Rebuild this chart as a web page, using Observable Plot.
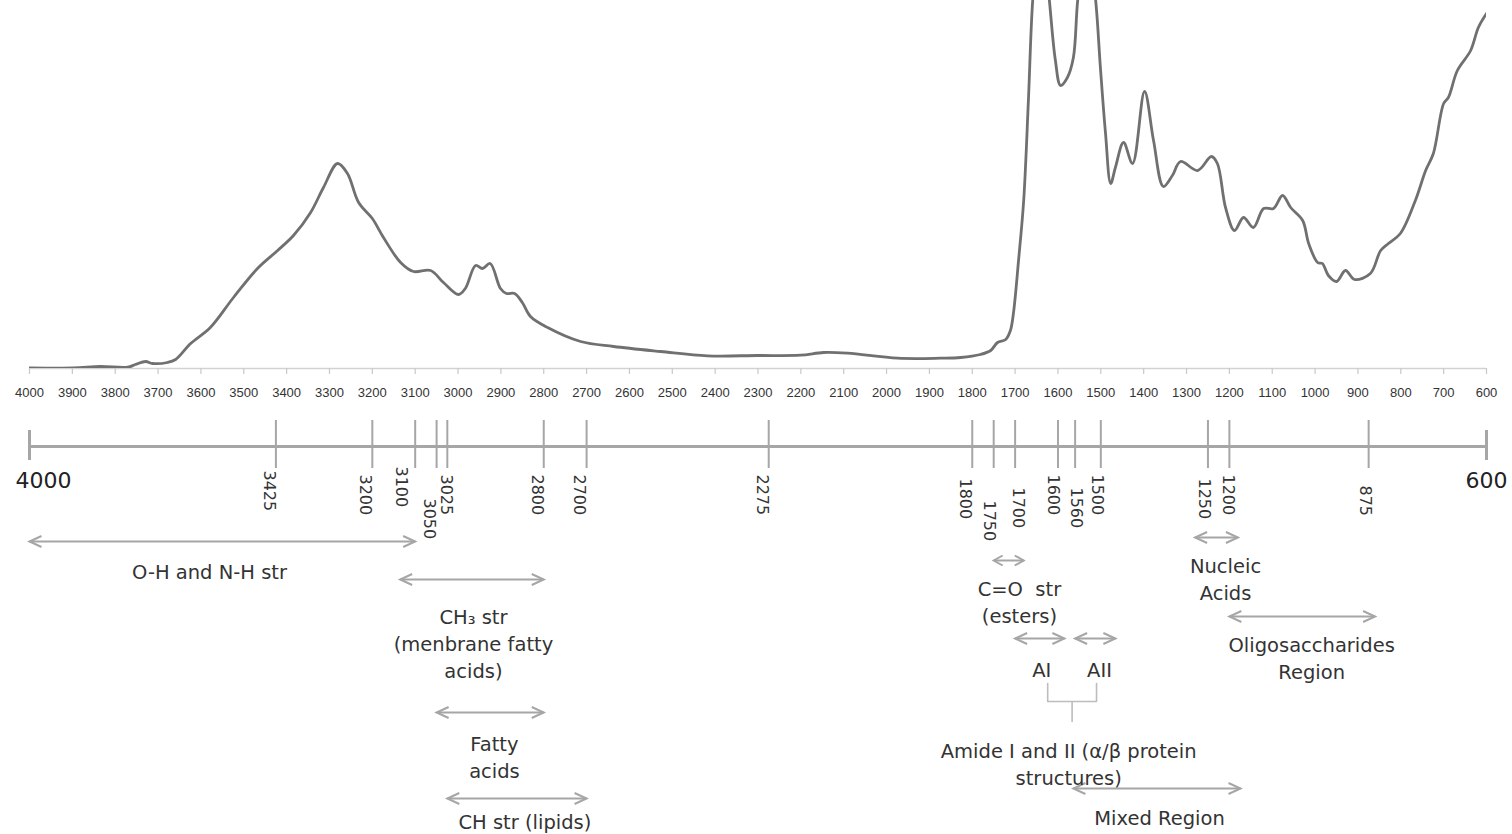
<!DOCTYPE html>
<html>
<head>
<meta charset="utf-8">
<script src="https://cdn.jsdelivr.net/npm/d3@7"></script>
<script src="https://cdn.jsdelivr.net/npm/@observablehq/plot@0.6"></script>
<style>
  html, body { margin: 0; padding: 0; background: #fff; }
  #chart { width: 1512px; height: 834px; overflow: hidden; position: relative; }
  #chart svg { display: block; }
</style>
</head>
<body>
<div id="chart"></div>
<script>
// ---------- DATA ----------
// FTIR spectrum: wavenumber (cm-1) and absorbance (arbitrary units)
const wavenumber = [4000, 3897, 3834, 3771, 3753, 3729, 3713, 3678, 3659, 3624, 3578, 3524, 3468, 3421, 3384, 3344, 3314, 3281, 3258, 3232,
  3200, 3174, 3134, 3104, 3064, 3034, 2999, 2983, 2959, 2943, 2925, 2901, 2887, 2868, 2850, 2831, 2791, 2714, 2637, 2527,
  2418, 2301, 2201, 2147, 2091, 1974, 1874, 1827, 1781, 1757, 1741, 1722, 1711, 1704, 1692, 1680, 1669, 1659, 1640, 1620,
  1606, 1594, 1578, 1564, 1554, 1533, 1512, 1501, 1489, 1477, 1466, 1447, 1426, 1398, 1377, 1354, 1333, 1314, 1274, 1242,
  1228, 1209, 1188, 1167, 1144, 1120, 1097, 1076, 1057, 1029, 1015, 994, 983, 969, 950, 929, 908, 871, 847, 829,
  801, 766, 742, 724, 700, 689, 668, 637, 619, 600];
const absorbance = [0.5, 0.7, 2, 1.3, 4, 7, 5, 6, 9, 25, 41, 71, 100, 118, 133, 156, 181, 205, 195, 166,
  150, 131, 106, 97, 98, 86, 74, 80, 103, 100, 105, 80, 75, 75, 66, 52, 41, 27, 22, 17,
  12.7, 13, 13.3, 16, 15.3, 10.3, 10.3, 11, 14, 18, 26, 29, 38, 55, 108, 168, 268, 368, 460, 368,
  308, 283, 291, 311, 368, 440, 368, 301, 235, 185, 201, 226, 205, 277, 228, 182, 193, 207, 198, 212,
  205, 161, 138, 151, 141, 160, 160, 173, 161, 148, 125, 106, 105, 93, 87, 98, 89, 95, 118, 125,
  135, 168, 198, 215, 265, 271, 298, 318, 341, 355];

// axis tick labels of the spectrum
const axisTicks = d3.range(4000, 599, -100);

// marked wavenumbers on the band-assignment scale
const markers = [3425, 3200, 3100, 3050, 3025, 2800, 2700, 2275, 1800, 1750, 1700, 1600, 1560, 1500, 1250, 1200, 875];
const scaleEnds = [4000, 600];

// band assignments (range in cm-1)
const bandIds    = ["oh", "ch3", "fatty", "ch", "co", "ai", "aii", "nucleic", "oligo", "mixed"];
const bandLabels = ["O-H and N-H str", "CH\u2083 str\n(menbrane fatty\nacids)", "Fatty\nacids", "CH str (lipids)",
  "C=O\u00a0 str\n(esters)", "AI", "AII", "Nucleic\nAcids", "Oligosaccharides\nRegion", "Mixed Region"];
const bandFrom   = [4000, 3135, 3050, 3025, 1750, 1700, 1560, 1280, 1200, 1564];
const bandTo     = [3100, 2800, 2800, 2700, 1680, 1585, 1466, 1180, 860, 1174];
const amideLabel = "Amide I and II (\u03b1/\u03b2 protein\nstructures)";

// ---------- LAYOUT (page rows in px, label anchors in cm-1) ----------
const layout = {
  oh:      {ay: 541, lx: 3580, ly: 570},
  ch3:     {ay: 579, lx: 2964, ly: 642},
  fatty:   {ay: 712, lx: 2915, ly: 755},
  ch:      {ay: 798, lx: 2844, ly: 820},
  co:      {ay: 560, lx: 1690, ly: 600},
  ai:      {ay: 638, lx: 1638, ly: 668},
  aii:     {ay: 638, lx: 1503, ly: 668},
  nucleic: {ay: 537, lx: 1209, ly: 577},
  oligo:   {ay: 616, lx: 1008, ly: 656},
  mixed:   {ay: 788, lx: 1363, ly: 816}
};
const amidePos = {lx: 1575, ly: 762};
const bracket = {left: 1624, right: 1510, stem: 1567, top: 683, mid: 701, bottom: 722};
const labelDx = {3100: -14, 3050: -7, 3025: -1, 1750: -5, 1700: 3, 1600: -5, 1560: 1, 1500: -4, 1250: -4, 1200: -1, 875: -4};
const labelTop = {3425: 470, 3100: 466, 3050: 498, 1800: 478, 1750: 500, 1700: 487, 1560: 487, 1250: 478, 875: 485};

// ---------- BUILD ----------
const spectrum = wavenumber.map((wn, i) => ({wn, a: absorbance[i]}));
const bands = bandIds.map((id, i) => ({id, label: bandLabels[i], from: bandFrom[i], to: bandTo[i]}));

const W = 1512;
const gray = "#a6a6a6";
const textColor = "#333";

const topChart = Plot.plot({
  width: W, height: 405,
  marginLeft: 29, marginRight: 26, marginTop: 0, marginBottom: 37,
  x: {domain: [4000, 600]},
  y: {domain: [0, 368], axis: null},
  style: {fontFamily: "'Liberation Sans', Arial, sans-serif", fontSize: "13px", background: "transparent"},
  marks: [
    Plot.ruleY([0], {stroke: "#d2d2d2", strokeWidth: 1.5}),
    Plot.axisX({ticks: axisTicks, tickSize: 6, tickPadding: 13, tickFormat: d => String(d),
      stroke: "#c8c8c8", strokeWidth: 1.2, fill: "#333", fontSize: 13, label: null}),
    Plot.line(spectrum, {x: "wn", y: "a", stroke: "#707070", strokeWidth: 2.8, curve: "catmull-rom", clip: true})
  ]
});

function chevron(dir, len, half) {
  return {draw(ctx) { ctx.moveTo(dir * len, -half); ctx.lineTo(0, 0); ctx.lineTo(dir * len, half); }};
}
const bigBands = bands.filter(d => d.id !== "co");
const smallBands = bands.filter(d => d.id === "co");
const ay = d => layout[d.id].ay;

const bottomChart = Plot.plot({
  width: W, height: 429,
  marginLeft: 29, marginRight: 26, marginTop: 0, marginBottom: 0,
  x: {domain: [4000, 600], axis: null},
  y: {domain: [834, 405], axis: null},
  style: {fontFamily: "'DejaVu Sans', sans-serif", background: "transparent"},
  marks: [
    // band-assignment scale
    Plot.ruleY([446], {x1: 4000, x2: 600, stroke: gray, strokeWidth: 3}),
    Plot.ruleX(scaleEnds, {y1: 430, y2: 460, stroke: gray, strokeWidth: 3}),
    Plot.ruleX(markers, {y1: 420, y2: 468, stroke: gray, strokeWidth: 2}),
    Plot.text([4000], {x: d => d, y: 480, text: d => String(d), fontSize: 22, textAnchor: "start", dx: -14, fill: "#222"}),
    Plot.text([600], {x: d => d, y: 480, text: d => String(d), fontSize: 22, textAnchor: "middle", fill: "#222"}),
    ...markers.map(m => Plot.text([m], {x: d => d, y: labelTop[m] ?? 474, text: d => String(d), rotate: 90,
      textAnchor: "start", lineAnchor: "middle", dx: labelDx[m] ?? -7, fontSize: 16, fill: textColor})),
    // band arrows
    Plot.link(bands, {x1: "from", x2: "to", y1: ay, y2: ay, stroke: gray, strokeWidth: 2}),
    Plot.dot(bigBands, {x: "from", y: ay, symbol: chevron(1, 12, 5.5), fill: "none", stroke: gray, strokeWidth: 2}),
    Plot.dot(bigBands, {x: "to", y: ay, symbol: chevron(-1, 12, 5.5), fill: "none", stroke: gray, strokeWidth: 2}),
    Plot.dot(smallBands, {x: "from", y: ay, symbol: chevron(1, 9, 5), fill: "none", stroke: gray, strokeWidth: 2}),
    Plot.dot(smallBands, {x: "to", y: ay, symbol: chevron(-1, 9, 5), fill: "none", stroke: gray, strokeWidth: 2}),
    Plot.text(bands, {x: d => layout[d.id].lx, y: d => layout[d.id].ly, text: "label",
      fontSize: 19.5, lineHeight: 1.385, fill: textColor}),
    // amide bracket
    Plot.line([
      {x: bracket.left, y: bracket.top}, {x: bracket.left, y: bracket.mid},
      {x: bracket.right, y: bracket.mid}, {x: bracket.right, y: bracket.top}
    ], {x: "x", y: "y", stroke: "#bdbdbd", strokeWidth: 1.6}),
    Plot.ruleX([bracket.stem], {y1: bracket.mid, y2: bracket.bottom, stroke: "#bdbdbd", strokeWidth: 1.6}),
    Plot.text([amideLabel], {x: amidePos.lx, y: amidePos.ly, text: d => d, fontSize: 19.5, lineHeight: 1.385, fill: textColor})
  ]
});

const chart = document.getElementById("chart");
chart.appendChild(topChart);
chart.appendChild(bottomChart);
</script>
</body>
</html>
